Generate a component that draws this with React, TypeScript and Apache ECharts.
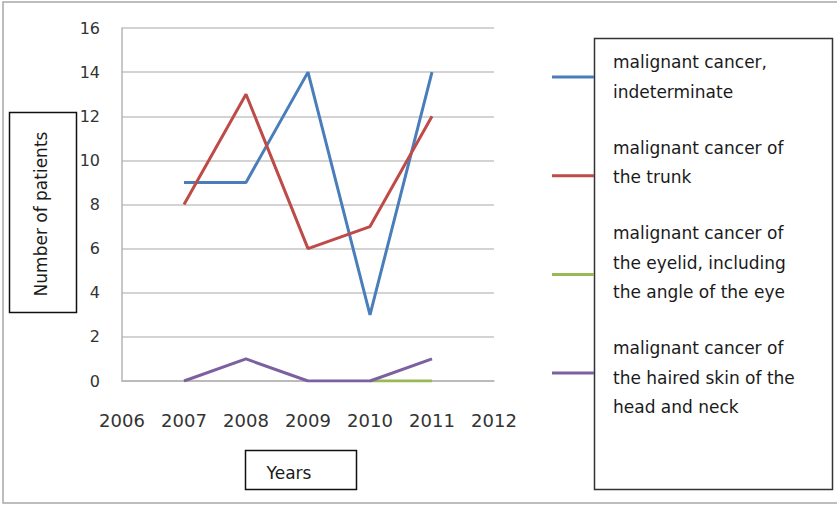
import React, { useEffect, useRef } from "react";
import * as echarts from "echarts";

const years = [2007, 2008, 2009, 2010, 2011];
const indeterminate = [9, 9, 14, 3, 14];
const trunk = [8, 13, 6, 7, 12];
const eyelid = [null, null, null, 0, 0];
const hairedSkin = [0, 1, 0, 0, 1];
const seriesNames = [
  "malignant cancer,\nindeterminate",
  "malignant cancer of\nthe trunk",
  "malignant cancer of\nthe eyelid, including\nthe angle of the eye",
  "malignant cancer of\nthe haired skin of the\nhead and neck",
];
const seriesColors = ["#4a7ebb", "#be4b48", "#98b954", "#7d60a0"];
const seriesValues = [indeterminate, trunk, eyelid, hairedSkin];
const xMin = 2006;
const xMax = 2012;
const yMax = 16;

const FONT = "DejaVu Sans";

export default function App() {
  const ref = useRef<HTMLDivElement>(null);
  useEffect(() => {
    document.body.style.margin = "0";
    const chart = echarts.init(ref.current!, null, { renderer: "svg" });

    const legendGraphics: any[] = [];
    let textY = 62;
    seriesNames.forEach((name, i) => {
      const markerY = 77 + i * 98.7;
      legendGraphics.push({
        type: "line",
        shape: { x1: 552, y1: markerY, x2: 594, y2: markerY },
        style: { stroke: seriesColors[i], lineWidth: 3 },
        z: 5,
      });
      const lines = name.split("\n");
      lines.forEach((ln, j) => {
        legendGraphics.push({
          type: "text",
          x: 613,
          y: textY + j * 29.5,
          style: {
            text: ln,
            font: `17px "${FONT}"`,
            fill: "#1a1a1a",
            verticalAlign: "middle",
            align: "left",
          },
          z: 6,
        });
      });
      textY += (lines.length - 1) * 29.5 + 56;
    });

    chart.setOption({
      animation: false,
      backgroundColor: "#ffffff",
      grid: { left: 122, top: 28, right: 343, bottom: 125, containLabel: false },
      xAxis: {
        type: "value",
        min: xMin,
        max: xMax,
        interval: 1,
        axisLine: { show: true, lineStyle: { color: "#b4b4b4", width: 1.5 } },
        axisTick: { show: false },
        splitLine: { show: false },
        axisLabel: {
          margin: 30,
          fontFamily: FONT,
          fontSize: 18,
          color: "#333333",
          showMinLabel: true,
          showMaxLabel: true,
          formatter: (v: number) => String(v),
        },
      },
      yAxis: {
        type: "value",
        min: 0,
        max: yMax,
        interval: 2,
        axisLine: { show: true, lineStyle: { color: "#b4b4b4", width: 1.5 } },
        axisTick: { show: false },
        splitLine: { show: true, lineStyle: { color: "#c4c4c4", width: 1.5 } },
        axisLabel: {
          margin: 22,
          fontFamily: FONT,
          fontSize: 16,
          color: "#333333",
        },
      },
      series: seriesValues.map((vals, i) => ({
        name: seriesNames[i],
        type: "line",
        data: years.map((y, k) => [y, vals[k]]),
        showSymbol: false,
        symbol: "none",
        connectNulls: false,
        lineStyle: { color: seriesColors[i], width: 3 },
        itemStyle: { color: seriesColors[i] },
        z: i === 2 ? 1 : 2 + i,
      })),
      graphic: [
        {
          type: "rect",
          shape: { x: 3, y: 2, width: 840, height: 501 },
          style: { fill: "none", stroke: "#a8a8a8", lineWidth: 1.5 },
          z: 0,
        },
        {
          type: "rect",
          shape: { x: 9.5, y: 112.5, width: 67, height: 200 },
          style: { fill: "#ffffff", stroke: "#111111", lineWidth: 1.5 },
          z: 5,
        },
        {
          type: "text",
          x: 41,
          y: 214,
          rotation: Math.PI / 2,
          style: {
            text: "Number of patients",
            font: `17px "${FONT}"`,
            fill: "#1a1a1a",
            align: "center",
            verticalAlign: "middle",
          },
          z: 6,
        },
        {
          type: "rect",
          shape: { x: 245.5, y: 450.5, width: 111, height: 39 },
          style: { fill: "#ffffff", stroke: "#111111", lineWidth: 1.5 },
          z: 5,
        },
        {
          type: "text",
          x: 289,
          y: 473,
          style: {
            text: "Years",
            font: `17px "${FONT}"`,
            fill: "#1a1a1a",
            align: "center",
            verticalAlign: "middle",
          },
          z: 6,
        },
        {
          type: "rect",
          shape: { x: 594.5, y: 38.5, width: 238, height: 451 },
          style: { fill: "#ffffff", stroke: "#333333", lineWidth: 1.5 },
          z: 4,
        },
        ...legendGraphics,
      ],
    });
    return () => chart.dispose();
  }, []);
  return (
    <div
      ref={ref}
      style={{ position: "absolute", left: 0, top: 0, width: 837, height: 506 }}
    />
  );
}
